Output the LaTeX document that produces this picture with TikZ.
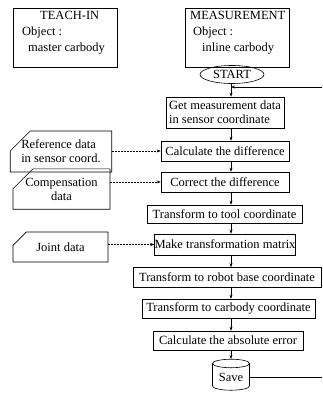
\documentclass[tikz,border=0pt]{standalone}
\usepackage{fontspec}
\setmainfont{Liberation Serif}
\usetikzlibrary{arrows.meta,positioning,shapes.geometric,shapes.misc}

\begin{document}
\begin{tikzpicture}[x=1pt,y=-1pt,
  ibox/.style={draw,line width=0.6pt,minimum width=104pt,minimum height=59pt,inner sep=0pt},
  proc/.style={draw,line width=0.6pt,font=\fontsize{12.5}{14}\selectfont,align=center,
    inner sep=0pt},
  doc/.style={draw,line width=0.6pt,chamfered rectangle,chamfered rectangle corners=north west,
    chamfered rectangle xsep=11pt,chamfered rectangle ysep=9pt,inner sep=0pt,
    font=\fontsize{12.5}{14}\selectfont,align=center},
  txt/.style={font=\fontsize{12.5}{14}\selectfont,inner sep=0pt},
  arr/.style={-{Stealth[length=4pt,width=3pt]},line width=0.5pt},
  darr/.style={arr,dash pattern=on 2pt off 1pt}
]
  \useasboundingbox (0,0) rectangle (322,395);
  \coordinate (axis) at (231,0);
  \coordinate (edge) at (322,0);

  % Teach-in
  \node[ibox] (teach) at (65,37.5) {};
  \node[txt,anchor=base west] (teachhead) at (40,20) {TEACH-IN};
  \node[txt,anchor=base west] (teachobj) at (22,36) {Object :};
  \node[txt,anchor=base west] (teachcar) at (28,52) {master carbody};

  % Measurement
  \node[ibox] (meas) at (237.5,37.5) {};
  \node[txt,anchor=base west] (meashead) at (190,20) {MEASUREMENT};
  \node[txt,anchor=base west] (measobj) at (193,36) {Object :};
  \node[txt,anchor=base west] (meascar) at (202,52) {inline carbody};

  % Flow
  \node[draw,line width=0.6pt,ellipse,minimum width=64pt,minimum height=18pt,inner sep=0pt,
    txt] (start) at (232,74.5) {START};
  \node[proc,minimum width=118pt,minimum height=31pt,align=left] (get) at (225,112.5)
    {Get measurement data\\in sensor coordinate};
  \node[proc,minimum width=128pt,minimum height=20pt] (calc) at (225,151) {Calculate the difference};
  \node[proc,minimum width=128pt,minimum height=20pt] (corr) at (225,182) {Correct the difference};
  \node[proc,minimum width=155pt,minimum height=18pt] (tool) at (224.5,214) {Transform to tool coordinate};
  \node[proc,minimum width=128pt,minimum height=21pt] (make) at (225,244.5) {Make transformation matrix};
  \node[proc,minimum width=188pt,minimum height=20pt] (robot) at (227,277.5) {Transform to robot base coordinate};
  \node[proc,minimum width=173pt,minimum height=19pt] (carb) at (228.5,308.5) {Transform to carbody coordinate};
  \node[proc,minimum width=150pt,minimum height=19pt] (abs) at (228,340.5) {Calculate the absolute error};
  \node[draw,line width=0.6pt,cylinder,shape border rotate=90,aspect=0.35,minimum width=37pt,
    minimum height=31pt,inner sep=0pt,txt] (save) at (231,377) {Save};

  % Input data
  \node[doc,minimum width=96pt,minimum height=31pt,align=left] (ref) at (61,151.5)
    {Reference data\\in sensor coord.};
  \node[doc,minimum width=97pt,minimum height=34pt] (comp) at (61.5,189) {Compensation\\data};
  \node[doc,minimum width=95pt,minimum height=30pt] (joint) at (60.5,247) {Joint data};

  % Arrows
  \draw[arr] (start.south -| axis) -- (get.north -| axis);
  \draw[arr] (get.south -| axis) -- (calc.north -| axis);
  \draw[arr] (calc.south -| axis) -- (corr.north -| axis);
  \draw[arr] (corr.south -| axis) -- (tool.north -| axis);
  \draw[arr] (tool.south -| axis) -- (make.north -| axis);
  \draw[arr] (make.south -| axis) -- (robot.north -| axis);
  \draw[arr] (robot.south -| axis) -- (carb.north -| axis);
  \draw[arr] (carb.south -| axis) -- (abs.north -| axis);
  \draw[arr] (abs.south -| axis) -- (save.north -| axis);
  \draw[darr] (ref.east |- calc.west) -- (calc.west);
  \draw[darr] (comp.east |- corr.west) -- (corr.west);
  \draw[darr] (joint.east |- make.west) -- (make.west);

  % Loop
  \coordinate (loopin) at (322,87);
  \draw[arr] (loopin) -- (loopin -| axis);
  \draw[line width=0.5pt] (save.east) -- (save.east -| edge);
\end{tikzpicture}
\end{document}
